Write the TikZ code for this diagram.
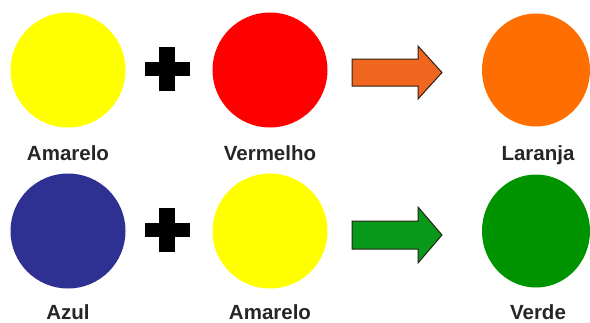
\documentclass[tikz,border=0pt]{standalone}
\usepackage{fontspec}
\setmainfont{Liberation Sans}
\usetikzlibrary{shapes.geometric,calc}
\definecolor{cyellow}{HTML}{FFFF00}
\definecolor{cred}{HTML}{FF0000}
\definecolor{corange}{HTML}{FF6E00}
\definecolor{cblue}{HTML}{2E3192}
\definecolor{cgreen}{HTML}{009300}
\definecolor{aorange}{HTML}{F0661E}
\definecolor{agreen}{HTML}{08981A}
\definecolor{aoutline}{HTML}{2A2118}
\begin{document}
\begin{tikzpicture}[x=1pt,y=-1pt,
  dot/.style={circle,inner sep=0pt,minimum size=115pt,draw=none},
  rdot/.style={ellipse,inner sep=0pt,minimum width=108pt,minimum height=113pt,draw=none},
  lbl/.style={font=\fontsize{20.5}{22}\selectfont\bfseries,text=black!85,inner sep=0pt,anchor=base},
  plusbar/.style={fill=black,draw=none},
  bigarrow/.style={draw=aoutline,line width=1pt,line join=miter}]
\useasboundingbox (0,0) rectangle (590,322);
% row 1
\node[dot,fill=cyellow] (y1) at (68,70) {};
\node[dot,fill=cred] (r1) at (270,70) {};
\node[rdot,fill=corange] (o1) at (536,70) {};
\node[lbl] (ly1) at (68,160) {Amarelo};
\node[lbl] (lr1) at (270,160) {Vermelho};
\node[lbl] (lo1) at (538,160) {Laranja};
\coordinate (p1) at (167,68.5);
\fill[plusbar] ($(p1)+(-22.5,-7)$) rectangle ($(p1)+(22.5,7)$);
\fill[plusbar] ($(p1)+(-8,-22)$) rectangle ($(p1)+(8,22)$);
\draw[bigarrow,fill=aorange] (352,59) -- (418,59) -- (418,46) -- (442,72.5) -- (418,99) -- (418,86) -- (352,86) -- cycle;
% row 2
\node[dot,fill=cblue] (b2) at (68,231) {};
\node[dot,fill=cyellow] (y2) at (270,231) {};
\node[rdot,fill=cgreen] (g2) at (536,231) {};
\node[lbl] (lb2) at (68,319) {Azul};
\node[lbl] (ly2) at (270,319) {Amarelo};
\node[lbl] (lg2) at (538,319) {Verde};
\coordinate (p2) at (167,229.5);
\fill[plusbar] ($(p2)+(-22.5,-7)$) rectangle ($(p2)+(22.5,7)$);
\fill[plusbar] ($(p2)+(-8,-22)$) rectangle ($(p2)+(8,22)$);
\draw[bigarrow,fill=agreen] (352,221) -- (418,221) -- (418,207) -- (442,235) -- (418,263) -- (418,249) -- (352,249) -- cycle;
\end{tikzpicture}
\end{document}
